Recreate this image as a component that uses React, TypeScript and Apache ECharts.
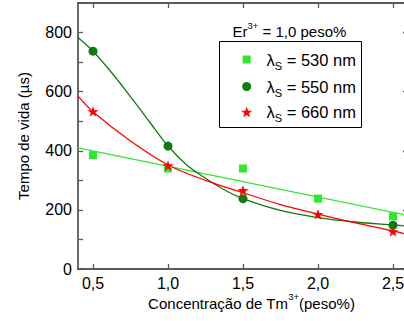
import React, { useEffect, useRef } from "react";
import * as echarts from "echarts";

// ---- data ----
const xTicks = [0.5, 1.0, 1.5, 2.0, 2.5];
const yLabelTicks = [0, 200, 400, 600, 800];
const yMinorTicks = [0, 100, 200, 300, 400, 500, 600, 700, 800];

const conc = [0.5, 1.0, 1.5, 2.0, 2.5];
const tau530 = [385, 340, 340, 238, 178];
const tau550 = [737, 416, 238, null, 148];
const tau660 = [533, 350, 266, 185, 127];

const fit530X = [0.4, 2.6];
const fit530Y = [410, 181];
const fit550X = [0.4, 0.5, 0.625, 0.75, 0.875, 1.0, 1.125, 1.25, 1.375, 1.5, 1.75, 2.0, 2.25, 2.5, 2.6];
const fit550Y = [783, 737, 664, 583, 499, 416, 352, 307, 268, 238, 198, 174, 159, 149, 145];
const fit660X = [0.4, 0.5, 0.75, 1.0, 1.25, 1.5, 1.75, 2.0, 2.25, 2.5, 2.6];
const fit660Y = [585, 532, 433, 352, 300, 258, 218, 186, 156, 129, 116];

const legendNames = ["530 nm", "550 nm", "660 nm"];

const C_LIGHT = "#2ee82e";
const C_DARK = "#107c10";
const C_RED = "#ff0000";
const AXIS = "#5a5a5a";
const FONT = '"Liberation Sans", Arial, sans-serif';

const STAR = "path://M0,-100L23.5,-32.4L95.1,-30.9L38,12.4L58.8,80.9L0,40L-58.8,80.9L-38,12.4L-95.1,-30.9L-23.5,-32.4Z";

function pairs(xs: number[], ys: (number | null)[]) {
  return xs.map((x, i) => [x, ys[i]]).filter((p) => p[1] !== null);
}

export default function App() {
  const ref = useRef<HTMLDivElement>(null);
  useEffect(() => {
    if (!ref.current) return;
    const chart = echarts.init(ref.current, undefined, { renderer: "svg" });
    const cv = document.createElement("canvas").getContext("2d")!;
    const mw = (t: string, s: number) => {
      cv.font = `${s}px "Liberation Sans", Arial`;
      return cv.measureText(t).width;
    };

    const txt = (text: string, x: number, y: number, size: number, extra: any = {}) => ({
      type: "text",
      x,
      y,
      style: {
        text,
        fontSize: size,
        fontFamily: FONT,
        fill: "#000",
        textAlign: "left",
        textVerticalAlign: "middle",
        ...extra,
      },
      z: 100,
    });

    const graphics: any[] = [];
    // y axis title
    graphics.push({
      type: "text",
      x: 23,
      y: 136,
      rotation: Math.PI / 2,
      style: {
        text: "Tempo de vida (\u00b5s)",
        fontSize: 15,
        fontFamily: FONT,
        fill: "#000",
        textAlign: "center",
        textVerticalAlign: "middle",
      },
    });
    // x axis title with superscript
    {
      const a = "Concentração de Tm";
      const s = "3+";
      const b = "(peso%)";
      const wa = mw(a, 15), ws = mw(s, 9.5), wb = mw(b, 15);
      let x0 = 251.5 - (wa + ws + wb) / 2;
      const y = 303;
      graphics.push(txt(a, x0, y, 15));
      graphics.push(txt(s, x0 + wa, y - 6.5, 9.5));
      graphics.push(txt(b, x0 + wa + ws, y, 15));
    }
    // legend title
    {
      const a = "Er";
      const s = "3+";
      const b = " = 1,0 peso%";
      const wa = mw(a, 15), ws = mw(s, 9.5);
      const x0 = 232.5, y = 31.5;
      graphics.push(txt(a, x0, y, 15));
      graphics.push(txt(s, x0 + wa, y - 6.5, 9.5));
      graphics.push(txt(b, x0 + wa + ws, y, 15));
    }
    // legend box
    graphics.push({
      type: "rect",
      shape: { x: 219.5, y: 41.5, width: 142, height: 86 },
      style: { fill: "#fff", stroke: "#000", lineWidth: 1 },
      z: 90,
    });
    const ly = [59.5, 86.5, 112];
    const sx = 246.7;
    graphics.push({ type: "rect", shape: { x: sx - 4, y: ly[0] - 4, width: 8, height: 8 }, style: { fill: C_LIGHT }, z: 100 });
    graphics.push({ type: "circle", shape: { cx: sx, cy: ly[1], r: 4.5 }, style: { fill: C_DARK }, z: 100 });
    {
      const pts: number[][] = [];
      for (let k = 0; k < 10; k++) {
        const r = k % 2 === 0 ? 5.8 : 2.4;
        const ang = -Math.PI / 2 + (k * Math.PI) / 5;
        pts.push([sx + r * Math.cos(ang), ly[2] + 0.6 + r * Math.sin(ang)]);
      }
      graphics.push({ type: "polygon", shape: { points: pts }, style: { fill: C_RED }, z: 100 });
    }
    legendNames.forEach((n, i) => {
      const x0 = 266.5;
      const wl = mw("\u03bb", 16.5);
      const wsub = mw("S", 11);
      graphics.push(txt("\u03bb", x0, ly[i], 16.5));
      graphics.push(txt("S", x0 + wl, ly[i] + 6, 11));
      graphics.push(txt(" = " + n, x0 + wl + wsub, ly[i], 16.5));
    });

    const axisLineStyle = { color: AXIS, width: 1.8 };
    const tickStyle = { color: AXIS, width: 1.3 };

    chart.setOption({
      animation: false,
      grid: { left: 78, top: 3, width: 330, height: 266, outerBoundsMode: "none", containLabel: false },
      xAxis: [
        {
          type: "value",
          position: "bottom",
          min: 0.4,
          max: 2.6,
          axisLine: { show: true, onZero: false, lineStyle: axisLineStyle },
          axisTick: { show: true, inside: true, length: 5, customValues: xTicks, lineStyle: tickStyle },
          axisLabel: {
            customValues: xTicks,
            formatter: (v: number) => v.toFixed(1).replace(".", ","),
            margin: 6,
            fontSize: 16,
            fontFamily: FONT,
            color: "#000",
          },
          splitLine: { show: false },
        },
        {
          type: "value",
          position: "top",
          min: 0.4,
          max: 2.6,
          axisLine: { show: true, onZero: false, lineStyle: axisLineStyle },
          axisTick: { show: true, inside: true, length: 5, customValues: xTicks, lineStyle: tickStyle },
          axisLabel: { show: false },
          splitLine: { show: false },
        },
      ],
      yAxis: [
        {
          type: "value",
          position: "left",
          min: 0,
          max: 900,
          axisLine: { show: true, onZero: false, lineStyle: axisLineStyle },
          axisTick: { show: true, inside: true, length: 5, customValues: yMinorTicks, lineStyle: tickStyle },
          axisLabel: {
            customValues: yLabelTicks,
            margin: 6,
            fontSize: 16,
            fontFamily: FONT,
            color: "#000",
          },
          splitLine: { show: false },
        },
        {
          type: "value",
          position: "right",
          min: 0,
          max: 900,
          axisLine: { show: true, onZero: false, lineStyle: axisLineStyle },
          axisTick: { show: true, inside: true, length: 5, customValues: yLabelTicks, lineStyle: tickStyle },
          axisLabel: { show: false },
          splitLine: { show: false },
        },
      ],
      series: [
        {
          type: "line",
          data: pairs(fit530X, fit530Y),
          showSymbol: false,
          lineStyle: { color: C_LIGHT, width: 1.3 },
          z: 2,
          silent: true,
        },
        {
          type: "line",
          data: pairs(fit550X, fit550Y),
          smooth: 0.3,
          showSymbol: false,
          lineStyle: { color: C_DARK, width: 1.3 },
          z: 2,
          silent: true,
        },
        {
          type: "line",
          data: pairs(fit660X, fit660Y),
          smooth: 0.3,
          showSymbol: false,
          lineStyle: { color: C_RED, width: 1.3 },
          z: 2,
          silent: true,
        },
        {
          name: "\u03bbS = 530 nm",
          type: "scatter",
          data: pairs(conc, tau530),
          symbol: "rect",
          symbolSize: 8,
          itemStyle: { color: C_LIGHT, opacity: 1 },
          z: 3,
        },
        {
          name: "\u03bbS = 550 nm",
          type: "scatter",
          data: pairs(conc, tau550),
          symbol: "circle",
          symbolSize: 9,
          itemStyle: { color: C_DARK, opacity: 1 },
          z: 4,
        },
        {
          name: "\u03bbS = 660 nm",
          type: "scatter",
          data: pairs(conc, tau660),
          symbol: STAR,
          symbolKeepAspect: true,
          symbolSize: 11,
          itemStyle: { color: C_RED, opacity: 1 },
          z: 5,
        },
      ],
      graphic: graphics,
    });
    return () => chart.dispose();
  }, []);
  return <div ref={ref} style={{ width: 404, height: 321, position: "absolute", left: 0, top: 0 }} />;
}
